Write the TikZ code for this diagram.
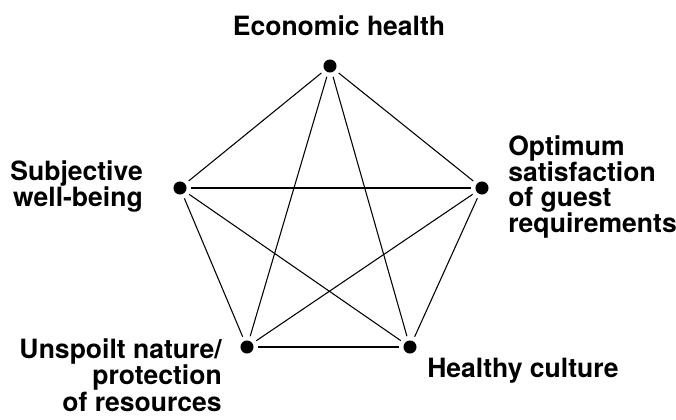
\documentclass[tikz,border=0pt]{standalone}
\usepackage{fontspec}
\setmainfont{TeX Gyre Heros}
\begin{document}
\begin{tikzpicture}[x=0.75pt, y=-0.75pt]
\tikzstyle{every node}=[inner sep=0pt]
\tikzstyle{goal} = [circle, fill=black, minimum size=9.8pt, outer sep=3.5pt];
\tikzstyle{aim} = [font=\fontsize{19.9}{18.1}\selectfont\bfseries];
\useasboundingbox (0,0) rectangle (676,419);
% the five dots
\node[goal] (economy) at (330,66) {};
\node[goal] (guests) at (482,188) {};
\node[goal] (wellbeing) at (180,188) {};
\node[goal] (nature) at (247,347) {};
\node[goal] (culture) at (410,347) {};
% the texts
\node[aim, anchor=north] (economytext) at (339,15) {Economic health};
\node[aim, anchor=north west, align=left] (gueststext) at (508,135)
  {Optimum\\satisfaction\\of guest\\requirements};
\node[aim, anchor=north east, align=right] (wellbeingtext) at (143,160)
  {Subjective\\well-being};
\node[aim, anchor=north east, align=right] (naturetext) at (222,338)
  {Unspoilt nature/\\protection\\of resources};
\node[aim, anchor=north west] (culturetext) at (427,358) {Healthy culture};
% every dot joined to every other
\draw[line width=0.8pt] (economy) -- (guests);
\draw[line width=0.8pt] (economy) -- (wellbeing);
\draw[line width=0.8pt] (economy) -- (nature);
\draw[line width=0.8pt] (economy) -- (culture);
\draw[line width=0.8pt] (guests) -- (wellbeing);
\draw[line width=0.8pt] (guests) -- (nature);
\draw[line width=0.8pt] (guests) -- (culture);
\draw[line width=0.8pt] (wellbeing) -- (nature);
\draw[line width=0.8pt] (wellbeing) -- (culture);
\draw[line width=0.8pt] (nature) -- (culture);
\end{tikzpicture}
\end{document}
